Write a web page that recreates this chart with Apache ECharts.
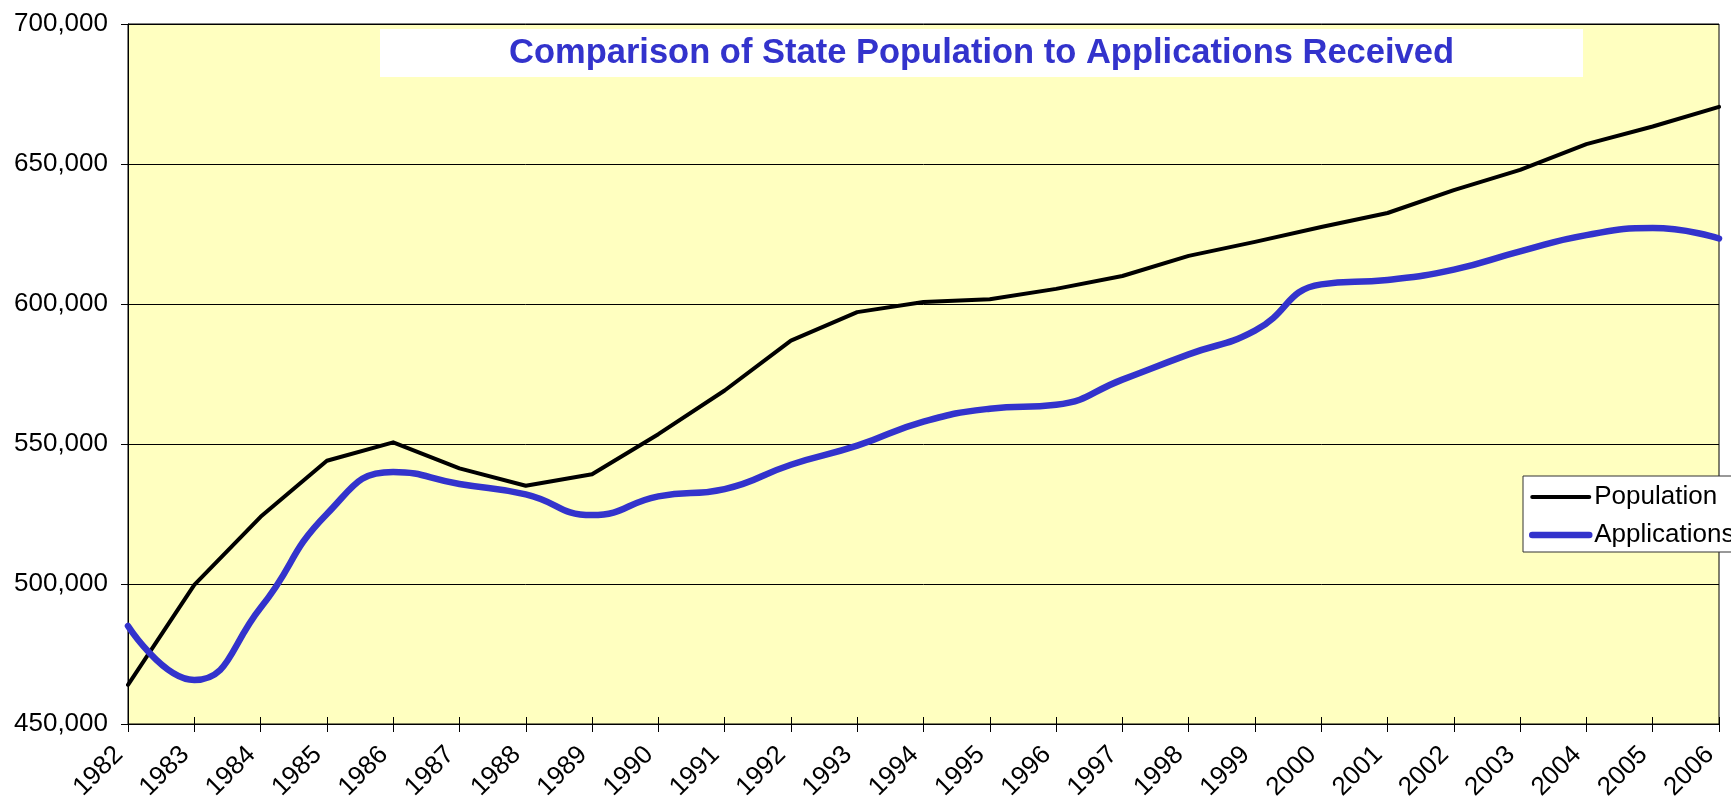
<!DOCTYPE html>
<html>
<head>
<meta charset="utf-8">
<script src="https://cdn.jsdelivr.net/npm/echarts@6/dist/echarts.min.js"></script>
<style>
html,body{margin:0;padding:0;background:#fff;}
#chart{width:1731px;height:807px;}
</style>
</head>
<body>
<div id="chart"></div>
<script>
const years = ['1982','1983','1984','1985','1986','1987','1988','1989','1990','1991','1992','1993','1994','1995','1996','1997','1998','1999','2000','2001','2002','2003','2004','2005','2006'];
const population = [464000, 499700, 524000, 544000, 550600, 541300, 535100, 539200, 553500, 569100, 586900, 597100, 600700, 601700, 605400, 610000, 617200, 622200, 627500, 632500, 640700, 647900, 657100, 663400, 670400];
const applications = [485000, 465700, 491500, 525000, 540000, 535700, 532000, 524600, 531300, 533900, 542600, 549400, 558000, 562600, 564000, 573000, 582000, 590500, 607000, 608600, 612300, 618800, 624600, 627100, 623400];
const yTicks = {min: 450000, max: 700000, interval: 50000};
const titleText = 'Comparison of State Population to Applications Received';

const FONT = '"Liberation Sans", Arial, sans-serif';
const chart = echarts.init(document.getElementById('chart'), null, {renderer: 'canvas'});
chart.setOption({
  animation: false,
  backgroundColor: '#ffffff',
  title: {
    text: titleText,
    left: 380, top: 29,
    padding: [5, 129],
    backgroundColor: '#ffffff',
    textStyle: {color: '#3333CC', fontFamily: FONT, fontWeight: 'bold', fontSize: 34.5, lineHeight: 38}
  },
  legend: {
    orient: 'vertical',
    left: 1523, top: 476,
    padding: [8, 8, 4, 6],
    itemGap: 12,
    itemWidth: 57, itemHeight: 14,
    backgroundColor: '#ffffff',
    borderColor: '#333', borderWidth: 1,
    textStyle: {color: '#000', fontFamily: FONT, fontSize: 26},
    data: [
      {name: 'Population', itemStyle: {opacity: 0}, lineStyle: {width: 4, cap: 'round'}},
      {name: 'Applications', itemStyle: {opacity: 0}, lineStyle: {width: 6.5, cap: 'round'}}
    ]
  },
  grid: {
    left: 128, right: 12, top: 24, bottom: 83,
    outerBoundsMode: 'none', containLabel: false,
    show: true, backgroundColor: '#FFFFC0', borderColor: '#000', borderWidth: 1
  },
  xAxis: [{
    type: 'category', data: years, boundaryGap: false,
    axisLine: {lineStyle: {color: '#000', width: 1}},
    axisTick: {show: true, length: 8, interval: 0, lineStyle: {color: '#000'}},
    axisLabel: {interval: 0, rotate: 45, margin: 36, verticalAlign: 'bottom', color: '#000', fontFamily: FONT, fontSize: 26},
    splitLine: {show: false}
  }, {
    type: 'category', data: years, boundaryGap: false, position: 'bottom',
    axisLine: {show: false},
    axisTick: {show: true, inside: true, length: 7, interval: 0, lineStyle: {color: '#000'}},
    axisLabel: {show: false}, splitLine: {show: false}
  }],
  yAxis: [{
    type: 'value', min: yTicks.min, max: yTicks.max, interval: yTicks.interval,
    axisLine: {show: true, lineStyle: {color: '#000', width: 1}},
    axisTick: {show: true, length: 7, lineStyle: {color: '#000'}},
    axisLabel: {margin: 20, color: '#000', fontFamily: FONT, fontSize: 26,
      formatter: v => v.toLocaleString('en-US')},
    splitLine: {show: true, lineStyle: {color: '#000', width: 1}}
  }, {
    type: 'value', min: yTicks.min, max: yTicks.max, interval: yTicks.interval, position: 'left',
    axisLine: {show: false},
    axisTick: {show: true, inside: true, length: 7, lineStyle: {color: '#000'}},
    axisLabel: {show: false}, splitLine: {show: false}
  }],
  series: [{
    name: 'Population', type: 'line', data: population,
    symbol: 'none', smooth: false,
    itemStyle: {color: '#000000'},
    lineStyle: {color: '#000000', width: 4, cap: 'round', join: 'round'}
  }, {
    name: 'Applications', type: 'line', data: applications,
    symbol: 'none', smooth: 0.5,
    itemStyle: {color: '#3333CC'},
    lineStyle: {color: '#3333CC', width: 6.5, cap: 'round', join: 'round'}
  }]
});
</script>
</body>
</html>
